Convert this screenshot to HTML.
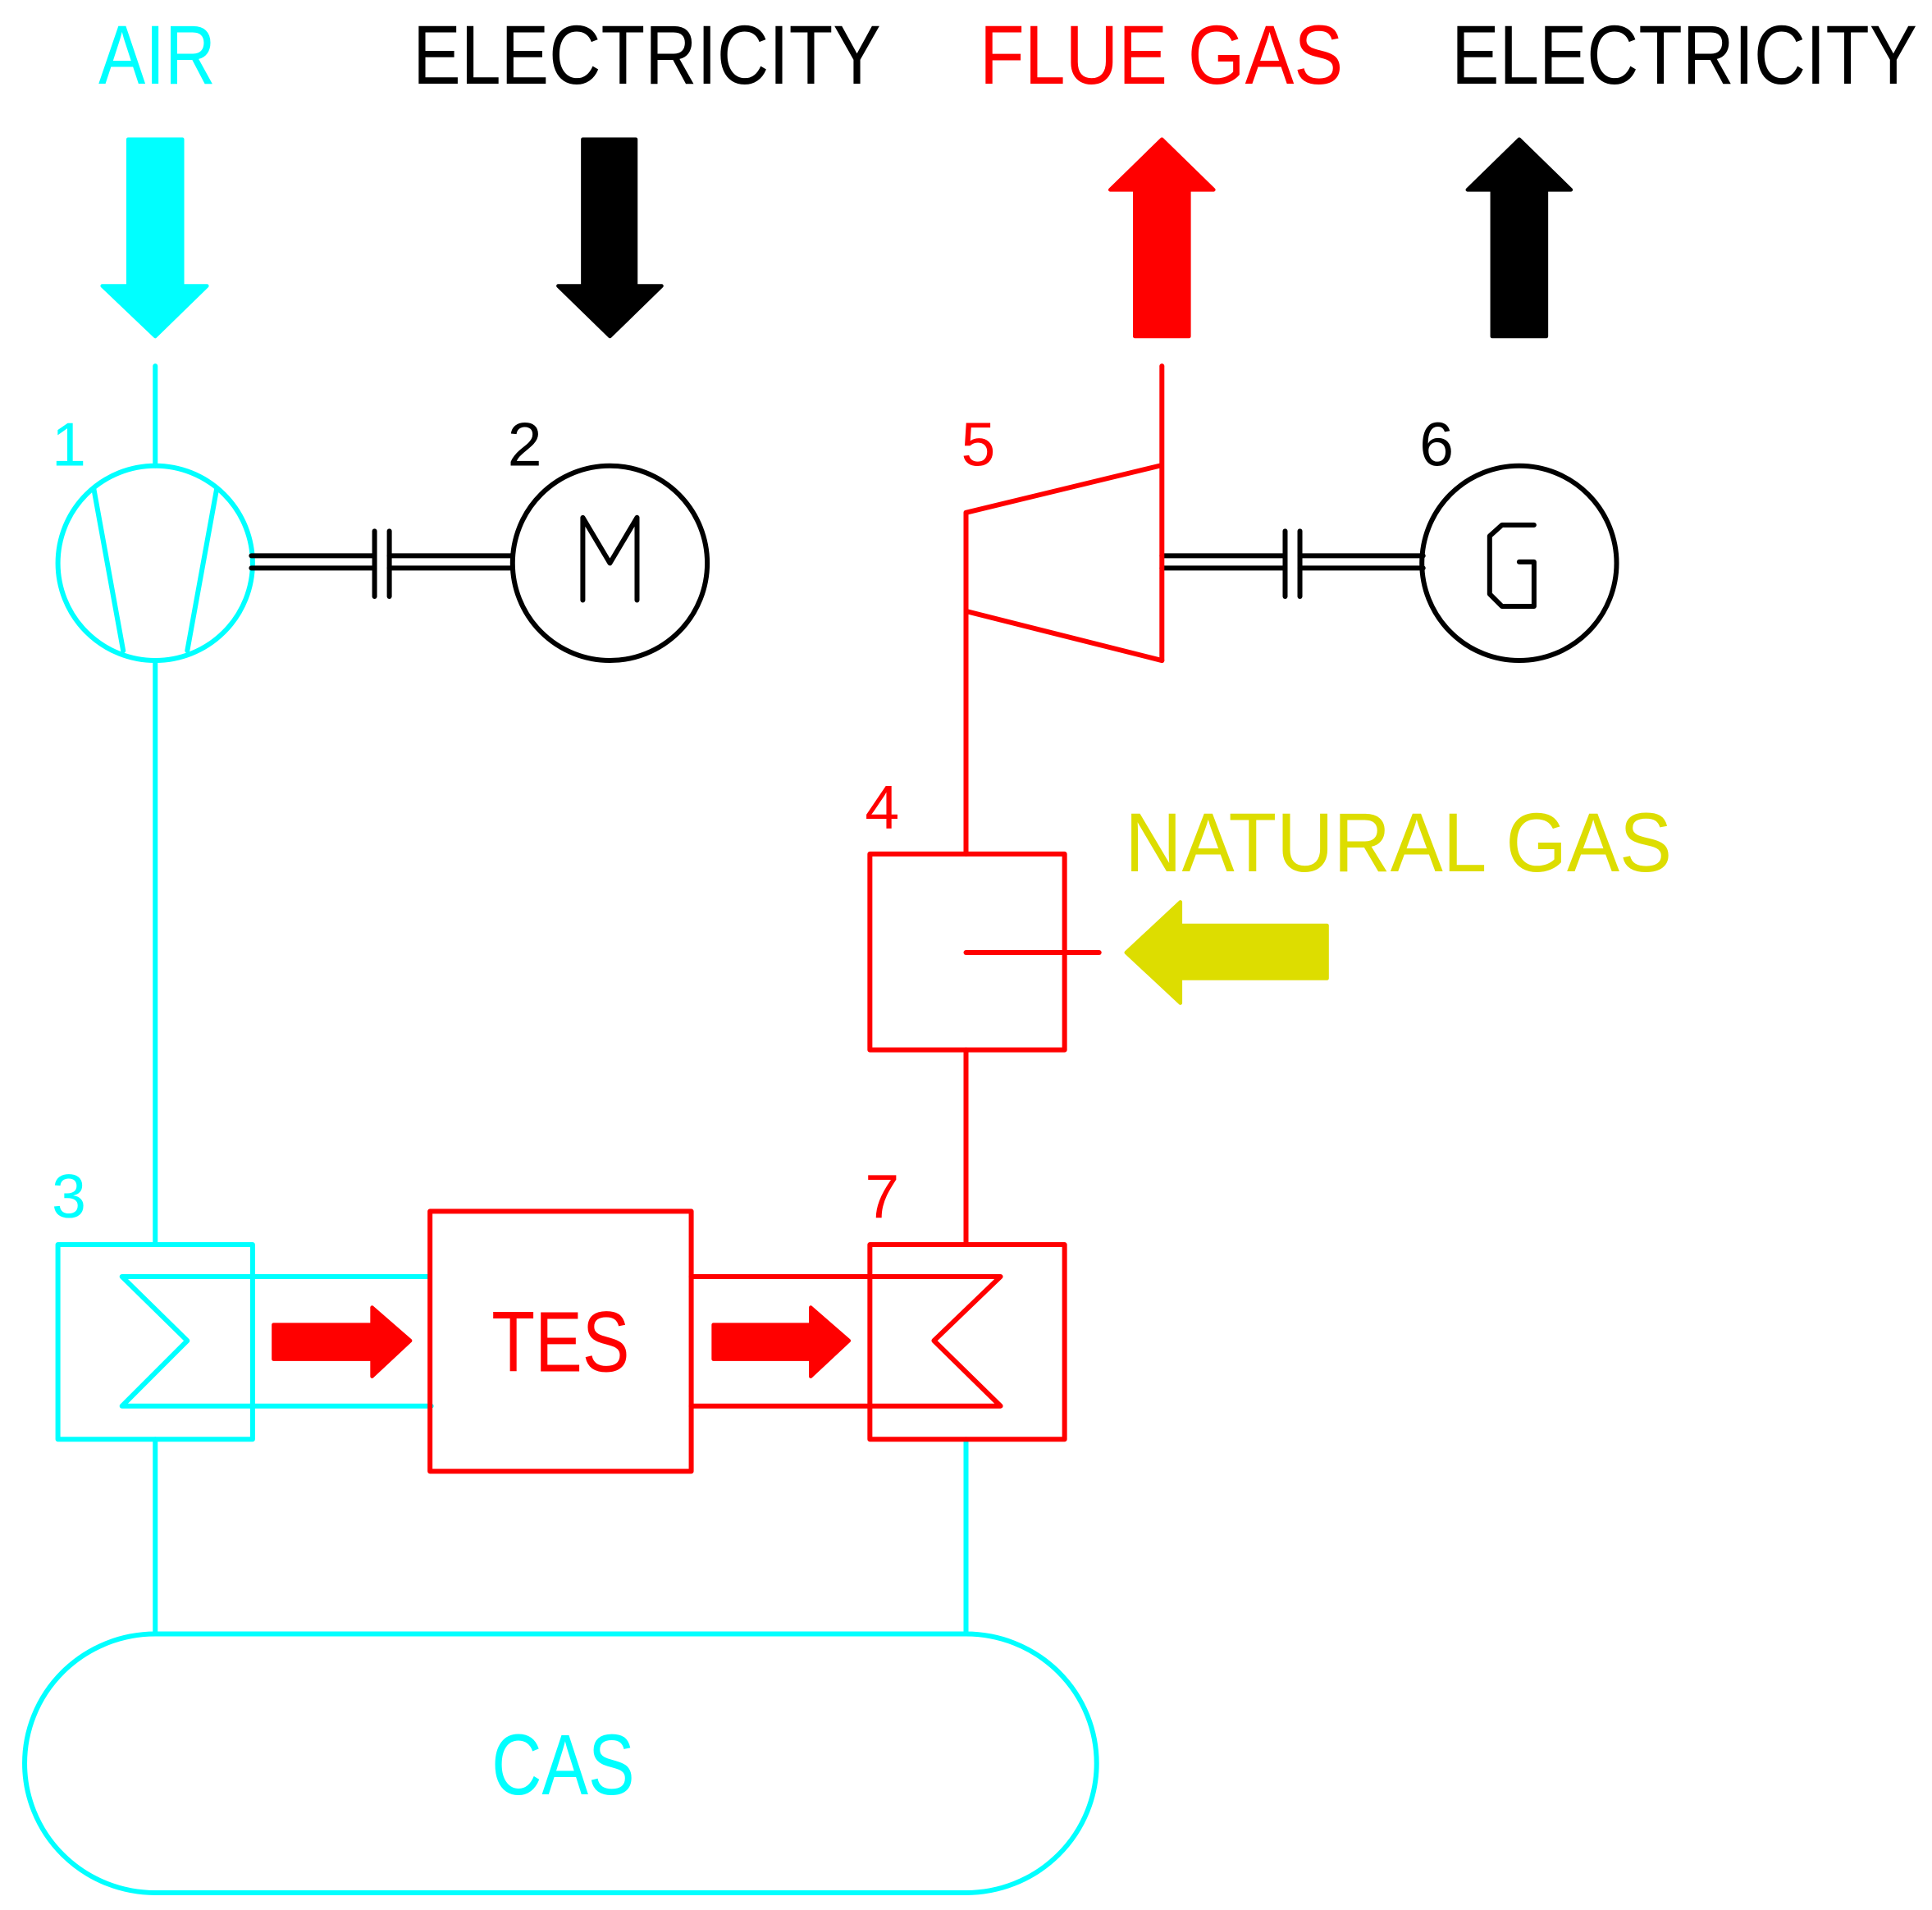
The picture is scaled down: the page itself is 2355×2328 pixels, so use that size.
<!DOCTYPE html>
<html><head><meta charset="utf-8"><style>
html,body{margin:0;padding:0;background:#fff;}
svg{display:block;}
text{font-family:"Liberation Sans",sans-serif;}
</style></head><body>
<svg width="2355" height="2328" viewBox="0 0 1568 1550" xmlns="http://www.w3.org/2000/svg">
<g font-size="68" text-anchor="start">
<text x="80" y="68" fill="#00ffff" textLength="95" lengthAdjust="spacingAndGlyphs">AIR</text>
<text x="335" y="68" fill="#000" textLength="380" lengthAdjust="spacingAndGlyphs">ELECTRICITY</text>
<text x="795" y="68" fill="#ff0000" textLength="295" lengthAdjust="spacingAndGlyphs">FLUE GAS</text>
<text x="1178" y="68" fill="#000" textLength="378" lengthAdjust="spacingAndGlyphs">ELECTRICITY</text>
<text x="913" y="707" fill="#dddd00" textLength="444" lengthAdjust="spacingAndGlyphs">NATURAL GAS</text>
</g>
<!-- big arrows -->
<polygon points="104,113 148,113 148,232 168,232 126,273 83,232 104,232" fill="#00ffff" stroke="#00ffff" stroke-width="3" stroke-linejoin="round"/>
<polygon points="473,113 516,113 516,232 537,232 495,273 453,232 473,232" fill="#000" stroke="#000" stroke-width="3" stroke-linejoin="round"/>
<polygon points="921,273 965,273 965,154 985,154 943,113 901,154 921,154" fill="#ff0000" stroke="#ff0000" stroke-width="3" stroke-linejoin="round"/>
<polygon points="1211,273 1255,273 1255,154 1275,154 1233,113 1191,154 1211,154" fill="#000" stroke="#000" stroke-width="3" stroke-linejoin="round"/>
<polygon points="1077,751 1077,794 958,794 958,814 914,773 958,732 958,751" fill="#dddd00" stroke="#dddd00" stroke-width="3" stroke-linejoin="round"/>
<polygon points="222,1075 302,1075 302,1061 333,1088 302,1117 302,1103 222,1103" fill="#ff0000" stroke="#ff0000" stroke-width="3" stroke-linejoin="round"/>
<polygon points="579,1075 658,1075 658,1061 689,1088 658,1117 658,1103 579,1103" fill="#ff0000" stroke="#ff0000" stroke-width="3" stroke-linejoin="round"/>
<g fill="none" stroke-width="4" stroke-linecap="round" stroke-linejoin="round">
<!-- cyan -->
<g stroke="#00ffff">
<line x1="126" y1="297" x2="126" y2="378"/>
<circle cx="126" cy="457" r="79"/>
<line x1="76" y1="396" x2="100" y2="528"/>
<line x1="176" y1="396" x2="152" y2="528"/>
<line x1="126" y1="537" x2="126" y2="1010"/>
<rect x="47" y="1010" width="158" height="158"/>
<polyline points="348,1036 99,1036 152,1088 99,1141 350,1141"/>
<line x1="126" y1="1168" x2="126" y2="1326"/>
<line x1="784" y1="1168" x2="784" y2="1326"/>
<path d="M126,1326 H784 A106,105 0 0 1 784,1536 H126 A106,105 0 0 1 126,1326 Z"/>
</g>
<!-- black -->
<g stroke="#000">
<line x1="204" y1="451" x2="304" y2="451"/><line x1="204" y1="461" x2="304" y2="461"/>
<line x1="316" y1="451" x2="416" y2="451"/><line x1="316" y1="461" x2="416" y2="461"/>
<line x1="304" y1="431" x2="304" y2="484"/><line x1="316" y1="431" x2="316" y2="484"/>
<circle cx="495" cy="457" r="79"/>
<polyline points="473,487 473,420 495,457 517,420 517,487"/>
<line x1="943" y1="451" x2="1043" y2="451"/><line x1="943" y1="461" x2="1043" y2="461"/>
<line x1="1055" y1="451" x2="1155" y2="451"/><line x1="1055" y1="461" x2="1155" y2="461"/>
<line x1="1043" y1="431" x2="1043" y2="484"/><line x1="1055" y1="431" x2="1055" y2="484"/>
<circle cx="1233" cy="457" r="79"/>
<polyline points="1245,426 1219,426 1209,435 1209,482 1219,492 1245,492 1245,456 1233,456"/>
</g>
<!-- red -->
<g stroke="#ff0000">
<line x1="943" y1="297" x2="943" y2="536"/>
<polyline points="941,378 784,416 784,693"/>
<polyline points="784,496 943,536"/>
<rect x="706" y="693" width="158" height="159"/>
<line x1="784" y1="773" x2="892" y2="773"/>
<line x1="784" y1="852" x2="784" y2="1010"/>
<rect x="349" y="983" width="212" height="211"/>
<polyline points="561,1036 812,1036 758,1088 812,1141 561,1141"/>
<rect x="706" y="1010" width="158" height="158"/>
</g>
</g>
<g font-size="50">
<text x="42" y="378" fill="#00ffff">1</text>
<text x="412" y="378" fill="#000">2</text>
<text x="780" y="378" fill="#ff0000">5</text>
<text x="1152" y="378" fill="#000">6</text>
<text x="702" y="672" fill="#ff0000">4</text>
<text x="42" y="988" fill="#00ffff">3</text>
<text x="702" y="988" fill="#ff0000">7</text>
</g>
<text x="455" y="1113" font-size="70" fill="#ff0000" text-anchor="middle" textLength="112" lengthAdjust="spacingAndGlyphs">TES</text>
<text x="457" y="1456" font-size="70" fill="#00ffff" text-anchor="middle" textLength="116" lengthAdjust="spacingAndGlyphs">CAS</text>
</svg>
</body></html>
